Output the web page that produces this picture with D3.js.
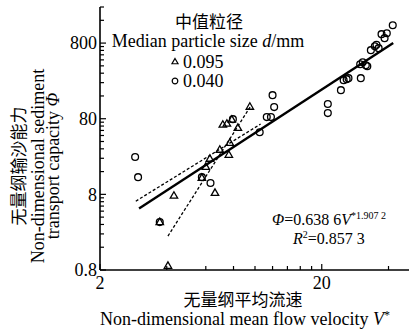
<!DOCTYPE html>
<html>
<head>
<meta charset="utf-8">
<script src="https://cdn.jsdelivr.net/npm/d3@7"></script>
<style>
  html, body { margin: 0; padding: 0; background: #fff; }
  svg { display: block; }
</style>
</head>
<body>
<div id="chartArea"></div>
<script>
// median particle size 0.040 mm (circles), [V*, Phi]
const circles040 = [
  [2.88, 24.9], [2.97, 13.5], [3.72, 3.44], [5.76, 13.5], [6.3, 11.3],
  [7.95, 79], [10.5, 53], [11.3, 84], [11.8, 84], [12.0, 164], [12.2, 114],
  [21.3, 125], [21.3, 95], [24.4, 191], [25.1, 259], [25.9, 267], [26.4, 275],
  [30.0, 275], [30.6, 447], [31.6, 408], [32.1, 396], [29.8, 420], [33.3, 645],
  [34.7, 728], [36.1, 686], [35.3, 760], [37.2, 1050], [39.3, 1080], [38.4, 930],
  [41.8, 1380]
]
// median particle size 0.095 mm (triangles)
const triangles095 = [
  [4.05, 0.9], [3.72, 3.4], [4.31, 7.6], [5.76, 13.1], [6.6, 8.3], [6.0, 18.3],
  [6.26, 23.4], [6.94, 30.8], [7.62, 26.4], [7.7, 38], [7.16, 66], [7.47, 68],
  [7.86, 77], [8.37, 60], [9.48, 114]
]
// fitted lines, end points [V*, Phi]
const fitAll = [[3.0, 5.2], [42, 800]]
const fitUpper = [[2.9, 6.5], [10.6, 68]]
const fitSteep = [[4.05, 2.25], [9.5, 114]]

const xMajor = [2, 20]
const xMinor = [4, 6, 8, 10, 12, 14, 16, 18, 40]
const yMajor = [0.8, 8, 80, 800]
const yMinor = [1.6, 2.4, 3.2, 4, 4.8, 5.6, 6.4, 7.2,
  16, 24, 32, 40, 48, 56, 64, 72,
  160, 240, 320, 400, 480, 560, 640, 720, 1600, 2400]

const legendItems = [
  { label: '0.095', shape: 'triangle' },
  { label: '0.040', shape: 'circle' }
]

const width = 409
const height = 334
const serif = '"Liberation Serif", "DejaVu Serif", serif'
const cjk = '"Noto Sans CJK SC", sans-serif'

const svg = d3.select('#chartArea')
  .append('svg')
  .attr('width', width)
  .attr('height', height)

const xScale = d3.scaleLog().domain([2, 50]).range([100, 410])
const yScale = d3.scaleLog().domain([0.8, 2400]).range([270, 7])

const triPath = d3.symbol().type(d3.symbolTriangle).size(24)

// axes lines
svg.append('line')
  .attr('x1', 100).attr('x2', 100)
  .attr('y1', yScale.range()[1]).attr('y2', 270)
  .attr('stroke', '#000').attr('stroke-width', 1.6)
svg.append('line')
  .attr('x1', 100).attr('x2', 410)
  .attr('y1', 270).attr('y2', 270)
  .attr('stroke', '#000').attr('stroke-width', 1.6)

// x ticks
svg.append('g').selectAll('line')
  .data(xMajor.concat(xMinor))
  .join('line')
  .attr('x1', d => xScale(d)).attr('x2', d => xScale(d))
  .attr('y1', 270).attr('y2', d => xMajor.includes(d) ? 264 : 266)
  .attr('stroke', '#000').attr('stroke-width', 1.2)

svg.append('g').selectAll('text')
  .data(xMajor)
  .join('text')
  .attr('x', d => xScale(d))
  .attr('y', 289)
  .attr('text-anchor', 'middle')
  .attr('font-family', serif)
  .attr('font-size', 18)
  .text(d => d)

// y ticks
svg.append('g').selectAll('line')
  .data(yMajor.concat(yMinor))
  .join('line')
  .attr('x1', 100).attr('x2', d => yMajor.includes(d) ? 106 : 104)
  .attr('y1', d => yScale(d)).attr('y2', d => yScale(d))
  .attr('stroke', '#000').attr('stroke-width', 1.2)

svg.append('g').selectAll('text')
  .data(yMajor)
  .join('text')
  .attr('x', 97)
  .attr('y', d => yScale(d))
  .attr('dy', '0.35em')
  .attr('text-anchor', 'end')
  .attr('font-family', serif)
  .attr('font-size', 18)
  .text(d => d)

// fitted lines
const line = d3.line().x(d => xScale(d[0])).y(d => yScale(d[1]))
svg.append('path').attr('d', line(fitAll))
  .attr('fill', 'none').attr('stroke', '#000').attr('stroke-width', 2.4)
svg.append('path').attr('d', line(fitUpper))
  .attr('fill', 'none').attr('stroke', '#000').attr('stroke-width', 1.3)
  .attr('stroke-dasharray', '3,2')
svg.append('path').attr('d', line(fitSteep))
  .attr('fill', 'none').attr('stroke', '#000').attr('stroke-width', 1.3)
  .attr('stroke-dasharray', '3,2')

// points
svg.append('g').selectAll('circle')
  .data(circles040)
  .join('circle')
  .attr('cx', d => xScale(d[0]))
  .attr('cy', d => yScale(d[1]))
  .attr('r', 3.4)
  .attr('fill', 'none')
  .attr('stroke', '#000')
  .attr('stroke-width', 1.3)

svg.append('g').selectAll('path')
  .data(triangles095)
  .join('path')
  .attr('d', triPath)
  .attr('transform', d => `translate(${xScale(d[0])},${yScale(d[1])})`)
  .attr('fill', 'none')
  .attr('stroke', '#000')
  .attr('stroke-width', 1.3)

// legend
svg.append('text')
  .attr('x', 209).attr('y', 28)
  .attr('text-anchor', 'middle')
  .attr('font-family', cjk)
  .attr('font-size', 17)
  .text('中值粒径')

const med = svg.append('text')
  .attr('x', 208).attr('y', 47)
  .attr('text-anchor', 'middle')
  .attr('font-family', serif)
  .attr('font-size', 18)
med.append('tspan').text('Median particle size ')
med.append('tspan').attr('font-style', 'italic').text('d')
med.append('tspan').text('/mm')

const legG = svg.append('g').selectAll('g')
  .data(legendItems)
  .join('g')
  .attr('transform', (d, i) => `translate(175,${62 + i * 19})`)

legG.each(function (d) {
  const g = d3.select(this)
  if (d.shape === 'triangle') {
    g.append('path').attr('d', d3.symbol().type(d3.symbolTriangle).size(16))
      .attr('fill', 'none').attr('stroke', '#000').attr('stroke-width', 1.2)
  } else {
    g.append('circle').attr('r', 2.8)
      .attr('fill', 'none').attr('stroke', '#000').attr('stroke-width', 1.2)
  }
})
legG.append('text')
  .attr('x', 8).attr('dy', '0.35em')
  .attr('font-family', serif)
  .attr('font-size', 18)
  .text(d => d.label)

// equation
const eq = svg.append('text')
  .attr('x', 272).attr('y', 225)
  .attr('font-family', serif)
  .attr('font-size', 16)
eq.append('tspan').attr('font-style', 'italic').text('Φ')
eq.append('tspan').text('=0.638 6')
eq.append('tspan').attr('font-style', 'italic').text('V')
eq.append('tspan').attr('font-size', 10).attr('dy', -6).text('*1.907 2')

const r2 = svg.append('text')
  .attr('x', 293).attr('y', 244)
  .attr('font-family', serif)
  .attr('font-size', 16)
r2.append('tspan').attr('font-style', 'italic').text('R')
r2.append('tspan').attr('font-size', 10).attr('dy', -6).text('2')
r2.append('tspan').attr('dy', 6).text('=0.857 3')

// x axis title
svg.append('text')
  .attr('x', 243).attr('y', 306)
  .attr('text-anchor', 'middle')
  .attr('font-family', cjk)
  .attr('font-size', 17)
  .text('无量纲平均流速')

const xt = svg.append('text')
  .attr('x', 245).attr('y', 325)
  .attr('text-anchor', 'middle')
  .attr('font-family', serif)
  .attr('font-size', 18)
xt.append('tspan').text('Non-dimensional mean flow velocity ')
xt.append('tspan').attr('font-style', 'italic').text('V')
xt.append('tspan').attr('font-size', 12).attr('dy', -6).text('*')

// y axis title
svg.append('text')
  .attr('transform', 'translate(25,166) rotate(-90)')
  .attr('text-anchor', 'middle')
  .attr('font-family', cjk)
  .attr('font-size', 17)
  .text('无量纲输沙能力')

svg.append('text')
  .attr('transform', 'translate(44,166) rotate(-90)')
  .attr('text-anchor', 'middle')
  .attr('font-family', serif)
  .attr('font-size', 18)
  .text('Non-dimensional sediment')

const yt = svg.append('text')
  .attr('transform', 'translate(59,166) rotate(-90)')
  .attr('text-anchor', 'middle')
  .attr('font-family', serif)
  .attr('font-size', 18)
yt.append('tspan').text('transport capacity ')
yt.append('tspan').attr('font-style', 'italic').text('Φ')
</script>
</body>
</html>
